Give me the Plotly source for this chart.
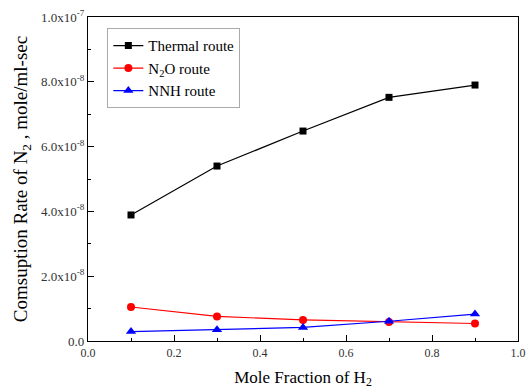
import plotly.graph_objects as go

x_h2 = [0.1, 0.3, 0.5, 0.7, 0.9]
thermal = [3.89e-8, 5.40e-8, 6.48e-8, 7.52e-8, 7.90e-8]
n2o = [1.05e-8, 0.76e-8, 0.65e-8, 0.59e-8, 0.54e-8]
nnh = [0.29e-8, 0.35e-8, 0.42e-8, 0.61e-8, 0.83e-8]

y_tickvals = [0, 2e-8, 4e-8, 6e-8, 8e-8, 1e-7]
y_ticktext = ["0.0", "2.0x10<sup>-8</sup>", "4.0x10<sup>-8</sup>", "6.0x10<sup>-8</sup>",
              "8.0x10<sup>-8</sup>", "1.0x10<sup>-7</sup>"]
x_tickvals = [0.0, 0.2, 0.4, 0.6, 0.8, 1.0]
x_ticktext = ["0.0", "0.2", "0.4", "0.6", "0.8", "1.0"]

font = "Liberation Serif"

fig = go.Figure()
fig.add_trace(go.Scatter(x=x_h2, y=thermal, name="Thermal route", mode="lines+markers",
                         line=dict(color="black", width=1.2),
                         marker=dict(symbol="square", size=7, color="black")))
fig.add_trace(go.Scatter(x=x_h2, y=n2o, name="N<sub>2</sub>O route", mode="lines+markers",
                         line=dict(color="red", width=1.2),
                         marker=dict(symbol="circle", size=8, color="red")))
fig.add_trace(go.Scatter(x=x_h2, y=nnh, name="NNH route", mode="lines+markers",
                         line=dict(color="blue", width=1.2),
                         marker=dict(symbol="triangle-up", size=9, color="blue")))

fig.update_layout(
    width=532, height=392,
    margin=dict(l=88, r=6, t=17, b=51),
    plot_bgcolor="white", paper_bgcolor="white",
    font=dict(family=font, color="black"),
    showlegend=True,
    legend=dict(x=0.045, y=0.965, xanchor="left", yanchor="top",
                bordercolor="#aaaaaa", borderwidth=1, bgcolor="white",
                font=dict(size=15, family=font), tracegroupgap=0, itemwidth=30),
    xaxis=dict(range=[0, 1], tickvals=x_tickvals, ticktext=x_ticktext,
               showline=True, linecolor="black", linewidth=1.2, mirror=True,
               ticks="inside", ticklen=6, tickcolor="black", showgrid=False, zeroline=False,
               minor=dict(tickvals=[0.1, 0.3, 0.5, 0.7, 0.9], ticks="inside", ticklen=3, tickcolor="black"),
               tickfont=dict(size=12, family=font, color="#333"), ticklabeloverflow="allow",
               title=dict(text="Mole Fraction of H<sub>2</sub>", font=dict(size=17, family=font), standoff=12)),
    yaxis=dict(range=[0, 1e-7], tickvals=y_tickvals, ticktext=y_ticktext,
               showline=True, linecolor="black", linewidth=1.2, mirror=True,
               ticks="inside", ticklen=6, tickcolor="black", showgrid=False, zeroline=False,
               minor=dict(tickvals=[1e-8, 3e-8, 5e-8, 7e-8, 9e-8], ticks="inside", ticklen=3, tickcolor="black"),
               tickfont=dict(size=13, family=font, color="#333"),
               title=dict(text="Comsuption Rate of N<sub>2</sub> , mole/ml-sec", font=dict(size=19, family=font), standoff=8)),
)

fig.write_html("out.html")
